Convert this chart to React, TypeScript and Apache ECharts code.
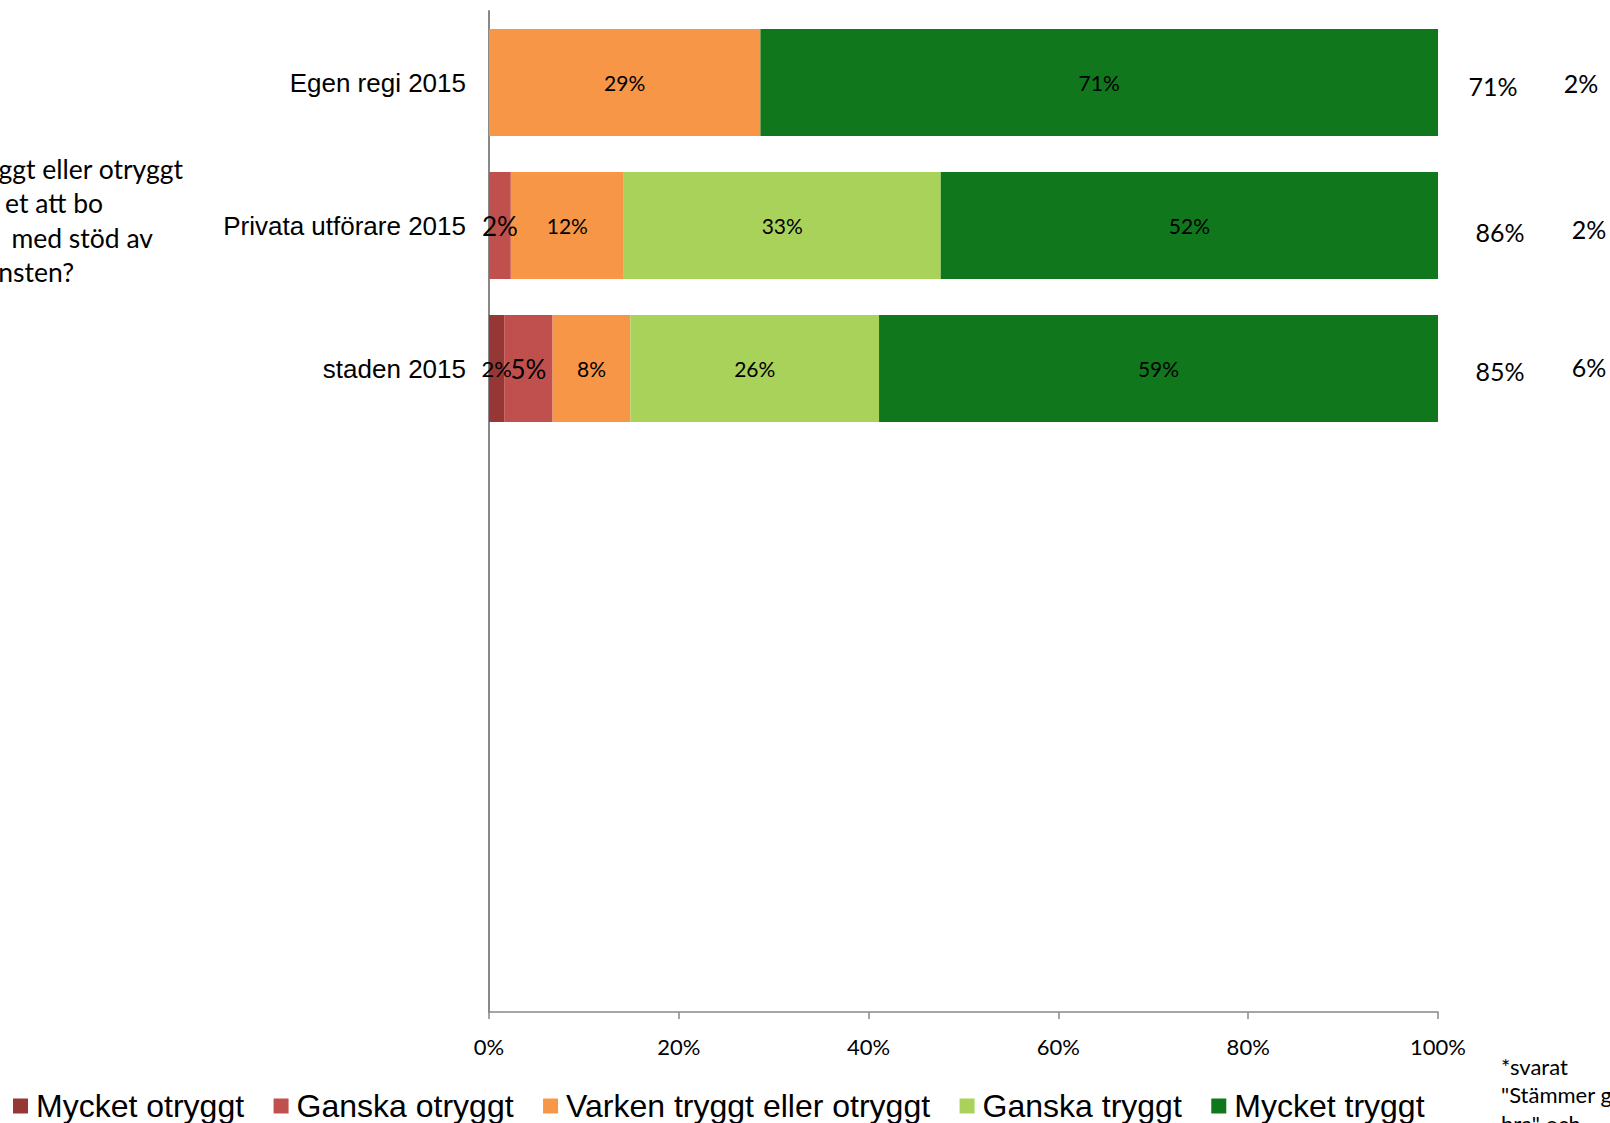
import React, { useEffect, useRef } from "react";
import * as echarts from "echarts";

const categories = ["Egen regi 2015", "Privata utförare 2015", "staden 2015", " ", "  ", "   ", "    "];
const seriesNames = ["Mycket otryggt", "Ganska otryggt", "Varken tryggt eller otryggt", "Ganska tryggt", "Mycket tryggt"];
const seriesColors = ["#953735", "#C0504D", "#F79646", "#A8D25A", "#10771C"];
const mycketOtryggt = [null, null, 1.6];
const ganskaOtryggt = [null, 2.3, 5.1];
const varkenTryggt = [28.6, 11.9, 8.2];
const ganskaTryggt = [null, 33.4, 26.2];
const mycketTryggt = [71.4, 52.4, 58.9];
const xTicks = [0, 20, 40, 60, 80, 100];
const andelTrygga = ["71%", "86%", "85%"];
const andelOtrygga = ["2%", "2%", "6%"];
const questionLines = ["ggt eller otryggt", "et att bo", " med stöd av", "nsten?"];
const noteLines = ["*svarat", "\"Stämmer g", "bra\" och"];

const seriesData = [mycketOtryggt, ganskaOtryggt, varkenTryggt, ganskaTryggt, mycketTryggt];
const labelSizes = [22, 26, 21, 21, 21];

export default function App() {
  const ref = useRef<HTMLDivElement>(null);
  useEffect(() => {
    document.body.style.margin = "0";
    const chart = echarts.init(ref.current!, null, { renderer: "svg" });
    const trygPos = [
      [1493, 86],
      [1500, 232],
      [1500, 371],
    ];
    const otrygPos = [
      [1581, 83],
      [1589, 229],
      [1589, 367],
    ];
    const qRight = [183, 103, 153, 74];
    const qY = [169, 203, 238, 272];
    const graphic: any[] = [];
    andelTrygga.forEach((t, i) => {
      graphic.push({
        type: "text",
        x: trygPos[i][0],
        y: trygPos[i][1],
        style: { text: t, fontFamily: "Lato", fontSize: 25, fill: "#000", align: "center", verticalAlign: "middle" },
      });
    });
    andelOtrygga.forEach((t, i) => {
      graphic.push({
        type: "text",
        x: otrygPos[i][0],
        y: otrygPos[i][1],
        style: { text: t, fontFamily: "Lato", fontSize: 25, fill: "#000", align: "center", verticalAlign: "middle" },
      });
    });
    questionLines.forEach((t, i) => {
      graphic.push({
        type: "text",
        x: qRight[i],
        y: qY[i],
        style: { text: t, fontFamily: "Lato", fontSize: 26.5, fill: "#000", align: "right", verticalAlign: "middle" },
      });
    });
    noteLines.forEach((t, i) => {
      graphic.push({
        type: "text",
        x: 1501,
        y: 1066 + i * 28.5,
        style: { text: t, fontFamily: "Lato", fontSize: 22, fill: "#000", align: "left", verticalAlign: "middle" },
      });
    });

    chart.setOption({
      animation: false,
      grid: { left: 489, right: 172, top: 11, bottom: 111, containLabel: false },
      legend: {
        left: 13,
        top: 1090,
        padding: 0,
        itemWidth: 15,
        itemHeight: 15,
        itemGap: 29.5,
        icon: "rect",
        data: seriesNames,
        textStyle: { fontFamily: "Liberation Sans", fontSize: 32, color: "#000", padding: [0, 0, 0, 3] },
      },
      xAxis: {
        type: "value",
        min: xTicks[0],
        max: xTicks[xTicks.length - 1],
        interval: xTicks[1] - xTicks[0],
        axisLine: { show: true, lineStyle: { color: "#888888", width: 1.5 } },
        axisTick: { show: true, length: 7, lineStyle: { color: "#888888", width: 1.5 } },
        splitLine: { show: false },
        axisLabel: { formatter: "{value}%", fontFamily: "Lato", fontSize: 22, color: "#000", margin: 23 },
      },
      yAxis: {
        type: "category",
        inverse: true,
        data: categories,
        axisLine: { show: true, lineStyle: { color: "#888888", width: 2 } },
        axisTick: { show: false },
        axisLabel: { fontFamily: "Liberation Sans", fontSize: 26, color: "#000", margin: 23 },
      },
      graphic,
      series: seriesNames.map((name, si) => ({
        name,
        type: "bar",
        stack: "total",
        barWidth: 107,
        itemStyle: { color: seriesColors[si] },
        label: {
          show: true,
          position: "inside",
          color: "#000",
          fontFamily: "Lato",
          fontSize: labelSizes[si],
          formatter: (p: any) => (p.value == null ? "" : Math.round(p.value) + "%"),
        },
        data: seriesData[si],
      })),
    });
    return () => chart.dispose();
  }, []);
  return <div ref={ref} style={{ width: 1610, height: 1123 }} />;
}
